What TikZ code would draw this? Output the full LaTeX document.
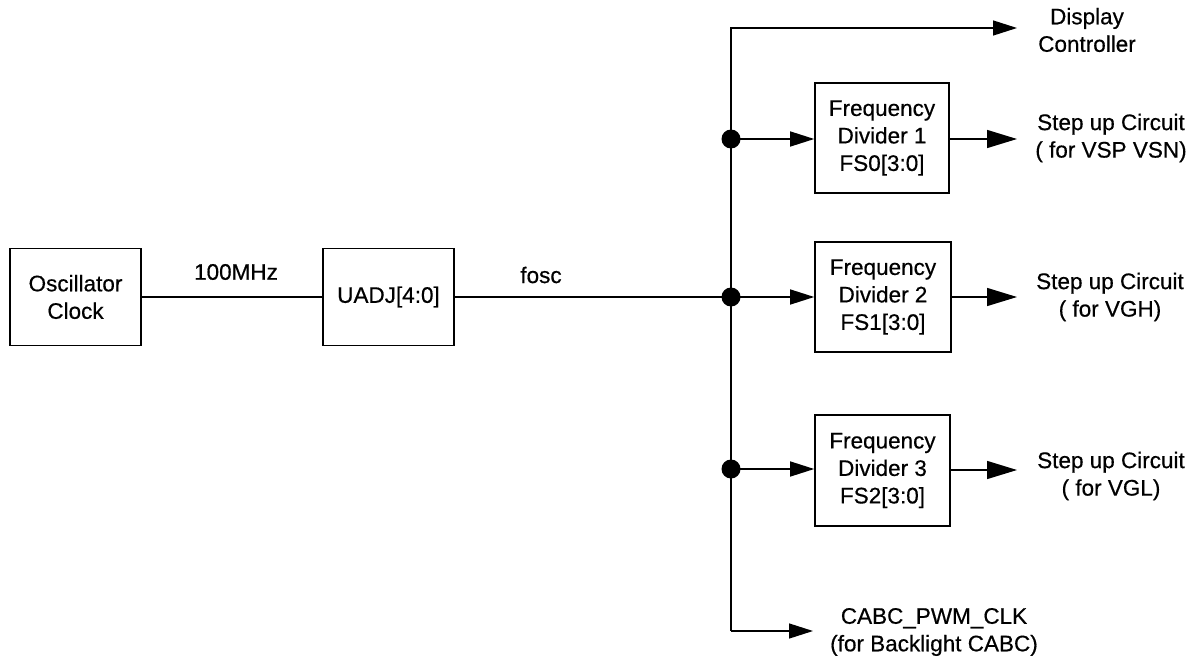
\documentclass[tikz,border=0pt]{standalone}
\usepackage{fontspec}
\setmainfont{Liberation Sans}
\usetikzlibrary{arrows.meta}
\begin{document}
\begin{tikzpicture}[x=1pt,y=-1pt,
 txt/.style={font=\fontsize{22.5}{27.5}\selectfont\addfontfeatures{FakeBold=0.5}},
 box/.style={draw,line width=1.6pt,inner sep=0pt,align=center,txt},
 lbl/.style={align=center,inner sep=0pt,txt},
 wire/.style={line width=1.4pt},
 arr/.style={wire,-{Triangle[length=24pt,width=15pt]}},
 bigarr/.style={wire,-{Triangle[length=30pt,width=18pt]}},
 dot/.style={circle,fill,inner sep=0pt,minimum size=19pt}]
\useasboundingbox (0,0) rectangle (1197,661);
% blocks
\node[box,minimum width=131pt,minimum height=97pt] (osc) at (75.5,297) {Oscillator\\Clock};
\node[box,minimum width=131pt,minimum height=97pt] (uadj) at (388.5,297) {UADJ[4:0]};
\node[box,minimum width=134pt,minimum height=110pt] (fd1) at (882,138) {Frequency\\Divider 1\\FS0[3:0]};
\node[box,minimum width=136pt,minimum height=110pt] (fd2) at (883,297) {Frequency\\Divider 2\\FS1[3:0]};
\node[box,minimum width=135pt,minimum height=111pt] (fd3) at (882.5,470.5) {Frequency\\Divider 3\\FS2[3:0]};
% junctions
\node[dot] (j1) at (731,139) {};
\node[dot] (j2) at (731,297) {};
\node[dot] (j3) at (731,469) {};
\coordinate (bustop) at (731,28);
\coordinate (busbot) at (731,631);
\coordinate (dcend) at (1017,28);
\coordinate (cabcend) at (813,631);
\coordinate (o1) at (1017,139);
\coordinate (o2) at (1017,297);
\coordinate (o3) at (1017,470);
% labels
\node[lbl] (mhz) at (236,272) {100MHz};
\node[lbl] (fosc) at (541,275) {fosc};
\node[lbl] (dc) at (1087,30) {Display\\Controller};
\node[lbl] (s1) at (1111,138) {Step up Circuit\\( for VSP VSN)};
\node[lbl] (s2) at (1110,297) {Step up Circuit\\( for VGH)};
\node[lbl] (s3) at (1111,476) {Step up Circuit\\( for VGL)};
\node[lbl] (cabc) at (934,632) {CABC\_PWM\_CLK\\(for Backlight CABC)};
% wires
\draw[wire] (osc.east) -- (uadj.west);
\draw[wire] (uadj.east) -- (j2.center);
\draw[arr] (busbot) -- (bustop) -- (dcend);
\draw[arr] (busbot) -- (cabcend);
\draw[arr] (j1.center) -- (j1.center -| fd1.west);
\draw[arr] (j2.center) -- (j2.center -| fd2.west);
\draw[arr] (j3.center) -- (j3.center -| fd3.west);
\draw[bigarr] (fd1.east |- o1) -- (o1);
\draw[bigarr] (fd2.east |- o2) -- (o2);
\draw[bigarr] (fd3.east |- o3) -- (o3);
\end{tikzpicture}
\end{document}
